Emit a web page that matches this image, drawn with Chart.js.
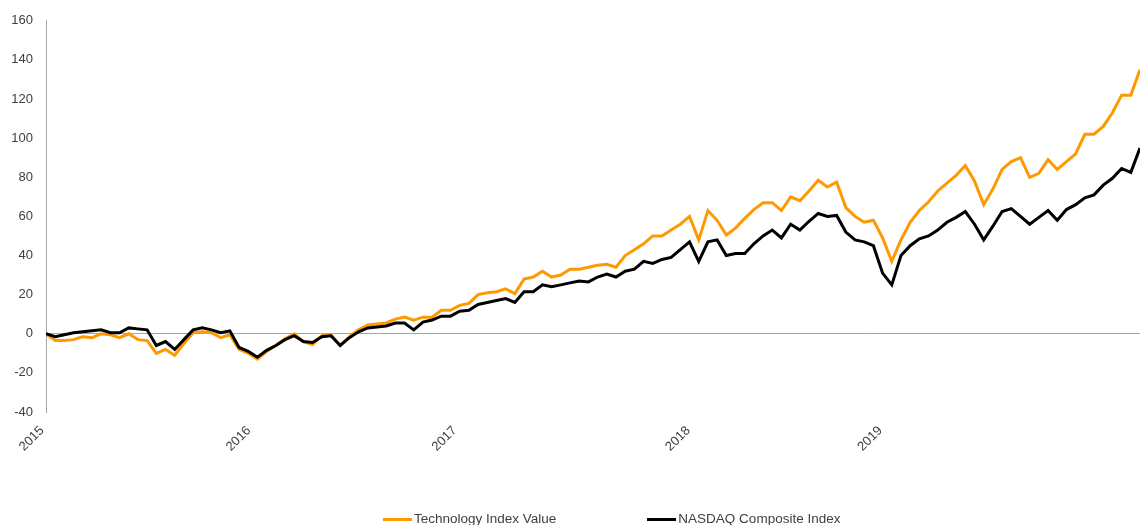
<!DOCTYPE html>
<html>
<head>
<meta charset="utf-8">
<script src="https://cdn.jsdelivr.net/npm/chart.js@4.4.1/dist/chart.umd.min.js"></script>
<style>
  html, body { margin: 0; padding: 0; background: #fff; }
  .wrap { position: relative; width: 1140px; height: 525px; overflow: hidden; }
  #perf-chart { display: block; }
  .legend { position: absolute; left: 383px; top: 511px; font: 13.5px "Liberation Sans", Arial, sans-serif; color: #404040; white-space: nowrap; }
  .legend .item { display: inline-block; margin-right: 91px; }
  .legend i { display: inline-block; width: 29px; height: 3px; vertical-align: middle; margin-right: 2px; }
</style>
</head>
<body>
<div class="wrap">
  <canvas id="perf-chart" width="1140" height="525"></canvas>
  <div class="legend" id="legend"></div>
</div>
<script>
// values, ~120 samples over 2015-2019
const techValues = [
  0, -3.5, -3.5, -3, -1.5, -2, 0, -0.5, -2, 0,
  -3, -3.5, -10, -8, -11, -5, 0.5, 1, 0.5, -2,
  -0.5, -8, -10, -13, -9, -6, -2.5, 0, -4, -5.5,
  -1, -0.5, -6, -1.5, 2, 4.5, 5, 5.5, 7.5, 8.5,
  7, 8.5, 8.5, 12, 12, 14.5, 15.5, 20, 21, 21.5,
  23, 20.5, 28, 29, 32, 29, 30, 33, 33, 34,
  35, 35.5, 34, 40, 43, 46, 50, 50, 53, 56,
  60, 48, 63, 58, 50.5, 54, 59, 63.5, 67, 67,
  63, 70, 68, 73, 78.5, 75, 77.5, 64.5, 60, 57,
  58, 49, 37, 48, 57, 63, 67.5, 73, 77, 81,
  86, 78, 66, 74, 84, 88, 90, 80, 82, 89,
  84, 88, 92, 102, 102, 106, 113, 122, 122, 135
];
const nasdaqValues = [
  0, -1.5, -0.5, 0.5, 1, 1.5, 2, 0.5, 0.5, 3,
  2.5, 2, -6, -4, -8, -3, 2, 3, 2, 0.5,
  1.5, -7, -9, -12, -8.5, -6, -3, -1, -4, -4.5,
  -1.5, -1, -6, -2, 1, 3, 3.5, 4, 5.5, 5.5,
  2, 6, 7, 9, 9, 11.5, 12, 15, 16, 17,
  18, 16, 21.5, 21.5, 25, 24, 25, 26, 27, 26.5,
  29, 30.5, 29, 32, 33, 37, 36, 38, 39, 43,
  47, 37, 47, 48, 40, 41, 41, 46, 50, 53,
  49, 56, 53, 57.5, 61.5, 60, 60.5, 52, 48, 47,
  45, 31, 25, 40, 45, 48.5, 50, 53, 57, 59.5,
  62.5, 56, 48, 55, 62.5, 64, 60, 56, 59.5, 63,
  58, 63.5, 66, 69.5, 71, 76, 79.5, 84.5, 82.5, 95
];
const seriesNames = ['Technology Index Value', 'NASDAQ Composite Index'];
const yearLabels = ['2015', '2016', '2017', '2018', '2019'];
const yearTicks = [0, 22.5, 44.9, 70.3, 91.2];   // sample index where each year label sits
const yMin = -40, yMax = 160, yStep = 20;

const toPoints = arr => arr.map((v, i) => ({ x: i, y: v }));

const ctx = document.getElementById('perf-chart').getContext('2d');

const chart = new Chart(ctx, {
  type: 'line',
  data: {
    datasets: [
      {
        label: seriesNames[0],
        data: toPoints(techValues),
        borderColor: '#FF9900',
        backgroundColor: '#FF9900',
        borderWidth: 3,
        pointRadius: 0,
        tension: 0,
        order: 2
      },
      {
        label: seriesNames[1],
        data: toPoints(nasdaqValues),
        borderColor: '#000000',
        backgroundColor: '#000000',
        borderWidth: 3,
        pointRadius: 0,
        tension: 0,
        order: 1
      }
    ]
  },
  options: {
    responsive: false,
    animation: false,
    layout: {
      padding: { top: 10, right: 0, bottom: 0, left: 0 }
    },
    plugins: {
      legend: { display: false },
      tooltip: { enabled: false }
    },
    scales: {
      x: {
        type: 'linear',
        min: 0,
        max: techValues.length - 1,
        afterBuildTicks(scale) {
          scale.ticks = yearTicks.map(v => ({ value: v }));
        },
        afterFit(scale) {
          scale.height = 113;
        },
        ticks: {
          autoSkip: false,
          minRotation: 45,
          maxRotation: 45,
          padding: 3,
          labelOffset: -4,
          color: '#404040',
          font: { family: '"Liberation Sans", Arial, sans-serif', size: 13 },
          callback: function(value, index) {
            return yearLabels[index];
          }
        },
        grid: { display: false },
        border: { display: false }
      },
      y: {
        min: yMin,
        max: yMax,
        afterFit(scale) {
          scale.width = 46;
        },
        ticks: {
          stepSize: yStep,
          padding: 13,
          color: '#404040',
          font: { family: '"Liberation Sans", Arial, sans-serif', size: 13 }
        },
        grid: {
          drawTicks: false,
          lineWidth: 1,
          color: c => c.tick && c.tick.value === 0 ? '#a6a6a6' : 'rgba(0,0,0,0)'
        },
        border: {
          display: true,
          color: '#a6a6a6',
          width: 1
        }
      }
    }
  }
});

// legend as plain html under the plot
const legendEl = document.getElementById('legend');
chart.data.datasets.forEach(ds => {
  const item = document.createElement('span');
  item.className = 'item';
  const swatch = document.createElement('i');
  swatch.style.background = ds.borderColor;
  item.appendChild(swatch);
  item.appendChild(document.createTextNode(ds.label));
  legendEl.appendChild(item);
});
</script>
</body>
</html>
